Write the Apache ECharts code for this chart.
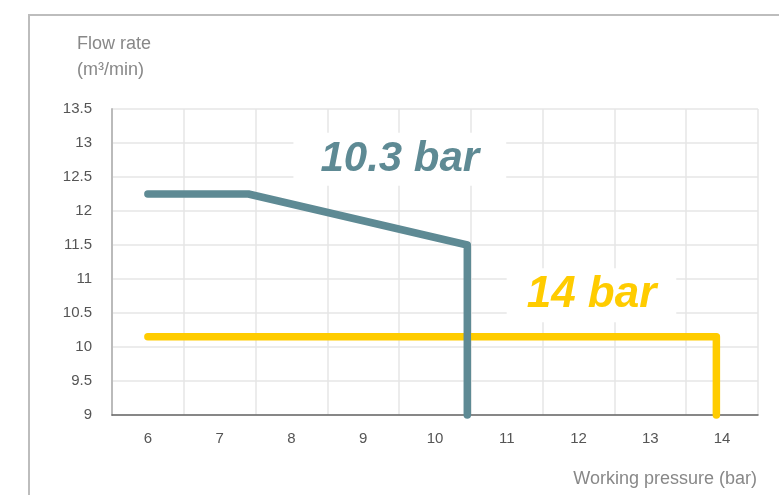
<!DOCTYPE html>
<html>
<head>
<meta charset="utf-8">
<script src="https://cdn.jsdelivr.net/npm/echarts@6/dist/echarts.min.js"></script>
<style>
html,body{margin:0;padding:0;background:#fff;}
#chart{width:779px;height:495px;}
</style>
</head>
<body>
<div id="chart"></div>
<script>
// Data
var pressureTicks = ['6','7','8','9','10','11','12','13','14'];
var series103 = [[6, 12.25], [7.4, 12.25], [10.45, 11.5], [10.45, 9]];
var series14 = [[6, 10.15], [13.92, 10.15], [13.92, 9]];
var label103 = {text: '10.3 bar', coord: [9.51, 12.76]};
var label14 = {text: '14 bar', coord: [12.18, 10.76]};
var yMin = 9, yMax = 13.5, yStep = 0.5;

var FONT = '"Liberation Sans", Arial, Helvetica, sans-serif';
var TEAL = '#5e8a94';
var YELLOW = '#ffcc00';

var chart = echarts.init(document.getElementById('chart'));
chart.setOption({
  animation: false,
  backgroundColor: '#fff',
  textStyle: {fontFamily: FONT},
  graphic: [{
    type: 'rect',
    silent: true,
    z: -10,
    shape: {x: 29, y: 15, width: 900, height: 700},
    style: {fill: 'none', stroke: '#bdbdbd', lineWidth: 2}
  }],
  title: [{
    text: 'Flow rate\n(m³/min)',
    left: 77, top: 31, padding: 0,
    textStyle: {fontFamily: FONT, fontSize: 18, fontWeight: 'normal', color: '#888', lineHeight: 26}
  }, {
    text: 'Working pressure (bar)',
    right: 22, top: 469, padding: 0,
    textStyle: {fontFamily: FONT, fontSize: 18, fontWeight: 'normal', color: '#888', lineHeight: 20}
  }],
  grid: {left: 112, right: 21, top: 109, bottom: 80, containLabel: false},
  xAxis: [{
    type: 'category',
    data: pressureTicks,
    boundaryGap: true,
    axisLine: {show: true, lineStyle: {color: '#666', width: 1.5}},
    axisTick: {show: false},
    axisLabel: {color: '#555', fontSize: 15, fontFamily: FONT, margin: 16},
    splitLine: {show: true, lineStyle: {color: '#e6e6e6', width: 1.5}}
  }, {
    type: 'value',
    min: 5.5, max: 14.5,
    show: false,
    position: 'bottom'
  }],
  yAxis: [{
    type: 'value',
    min: yMin, max: yMax, interval: yStep,
    axisLine: {show: true, lineStyle: {color: '#bbb', width: 2}},
    axisTick: {show: false},
    axisLabel: {color: '#555', fontSize: 15, fontFamily: FONT, margin: 20},
    splitLine: {show: true, lineStyle: {color: '#e6e6e6', width: 1.5}}
  }],
  series: [{
    type: 'line',
    xAxisIndex: 1,
    data: series103,
    symbol: 'none',
    clip: false,
    lineStyle: {color: TEAL, width: 7.5, cap: 'round', join: 'round'},
    z: 3,
    markPoint: {
      symbol: 'rect', symbolSize: 1,
      itemStyle: {color: 'rgba(0,0,0,0)'},
      data: [{
        coord: label103.coord,
        label: {
          show: true, position: 'inside', formatter: label103.text,
          fontFamily: FONT, fontSize: 42, fontWeight: 'bold', fontStyle: 'italic',
          color: TEAL, backgroundColor: '#fff', padding: [6, 27, 6, 27], lineHeight: 41
        }
      }]
    }
  }, {
    type: 'line',
    xAxisIndex: 1,
    data: series14,
    symbol: 'none',
    clip: false,
    lineStyle: {color: YELLOW, width: 7.5, cap: 'round', join: 'round'},
    z: 2,
    markPoint: {
      symbol: 'rect', symbolSize: 1,
      itemStyle: {color: 'rgba(0,0,0,0)'},
      data: [{
        coord: label14.coord,
        label: {
          show: true, position: 'inside', formatter: label14.text,
          fontFamily: FONT, fontSize: 44, fontWeight: 'bold', fontStyle: 'italic',
          color: YELLOW, backgroundColor: '#fff', padding: [5, 20, 5, 20], lineHeight: 44
        }
      }]
    }
  }]
});
</script>
</body>
</html>
